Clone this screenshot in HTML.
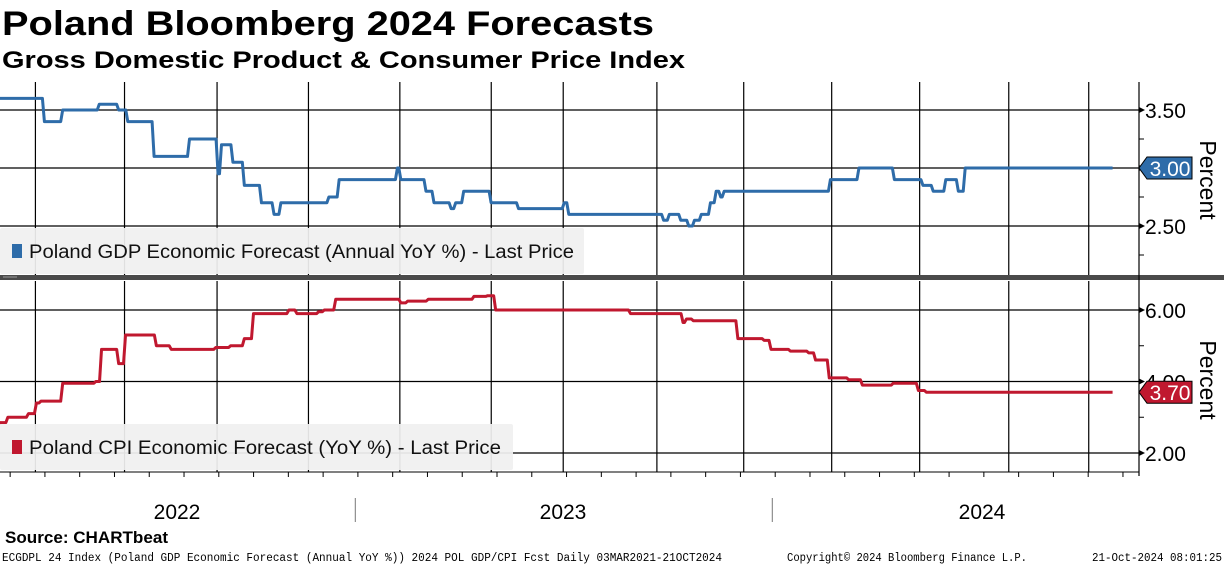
<!DOCTYPE html>
<html><head><meta charset="utf-8">
<style>
body{margin:0;background:#fff;width:1224px;height:566px;overflow:hidden;font-family:"Liberation Sans",sans-serif;}
svg{display:block}
</style></head>
<body>
<svg id="chart" width="1224" height="566" xmlns="http://www.w3.org/2000/svg">
<text x="2" y="35" font-size="34" font-weight="bold" fill="#000" textLength="652" lengthAdjust="spacingAndGlyphs">Poland Bloomberg 2024 Forecasts</text>
<text x="2" y="68" font-size="24" font-weight="bold" fill="#000" textLength="683" lengthAdjust="spacingAndGlyphs">Gross Domestic Product &amp; Consumer Price Index</text>
<g id="grid"></g>
<g id="series"></g>
<g id="axes"></g>
<text x="5" y="543" font-size="17" font-weight="bold" fill="#000" textLength="163" lengthAdjust="spacingAndGlyphs">Source: CHARTbeat</text>
<g font-family="Liberation Mono, monospace" font-size="11.5" fill="#000">
<text x="2" y="561" textLength="720" lengthAdjust="spacingAndGlyphs">ECGDPL 24 Index (Poland GDP Economic Forecast (Annual YoY %)) 2024 POL GDP/CPI Fcst  Daily 03MAR2021-21OCT2024</text>
<text x="787" y="561" textLength="240" lengthAdjust="spacingAndGlyphs">Copyright© 2024 Bloomberg Finance L.P.</text>
<text x="1092" y="561" textLength="130" lengthAdjust="spacingAndGlyphs">21-Oct-2024 08:01:25</text>
</g>
</svg>
<script>
// x values are days since ~23 Feb 2022
const gdpDays = [0,38,54,86,103,111,134,165,190,193,203,213,228,239,245,287,296,347,350,372,379,394,398,405,429,453,493,497,580,585,595,602,607,613,621,626,630,633,726,751,782,807,816,827,838,844,973];
const gdpValues = [3.60,3.40,3.50,3.55,3.50,3.40,3.10,3.25,2.95,3.20,3.05,2.85,2.70,2.60,2.70,2.75,2.90,3.00,2.90,2.80,2.70,2.65,2.70,2.80,2.70,2.65,2.70,2.60,2.55,2.60,2.55,2.50,2.55,2.60,2.70,2.80,2.75,2.80,2.90,3.00,2.90,2.85,2.80,2.90,2.80,3.00,3.00];
const cpiDays = [0,6,24,31,35,54,83,88,103,109,136,149,188,201,213,221,252,259,278,283,293,350,356,374,414,426,433,551,597,600,606,645,668,674,691,707,713,725,742,754,781,803,810,973];
const cpiValues = [2.85,3.00,3.10,3.40,3.45,3.95,4.00,4.90,4.50,5.30,5.00,4.90,4.95,5.00,5.20,5.90,6.00,5.90,5.95,6.00,6.30,6.20,6.25,6.30,6.38,6.40,6.00,5.90,5.65,5.75,5.70,5.20,5.15,4.90,4.85,4.80,4.60,4.10,4.05,3.90,3.95,3.75,3.70,3.70];
const gdpTicks = [2.50,3.00,3.50];
const gdpMinor = [2.25,2.75,3.25];
const cpiTicks = [2.00,4.00,6.00];
const cpiMinor = [3.00,5.00];
const gridDays = [31,109,190,270,350,430,493,575,651,728,805,883,953];
const yearLabels = ["2022","2023","2024"];
const yearStarts = [-54,311,676];
const lastGdp = "3.00", lastCpi = "3.70";

const NS="http://www.w3.org/2000/svg";
const X0=0,X1=1139,D0=0,D1=997;
const x=d=>X0+(d-D0)/(D1-D0)*(X1-X0);
const yG=v=>110-(v-3.5)*116;
const yC=v=>310-(v-6)*35.75;
function mk(tag,attrs,parent){const e=document.createElementNS(NS,tag);for(const k in attrs)e.setAttribute(k,attrs[k]);parent.appendChild(e);return e;}
const grid=document.getElementById('grid'),series=document.getElementById('series'),axes=document.getElementById('axes');

gridDays.forEach(d=>{
  let l=mk('line',{x1:x(d),x2:x(d),y1:82,y2:276,stroke:'#000','stroke-width':1.2},grid);
  
  
  let l2=mk('line',{x1:x(d),x2:x(d),y1:281,y2:472,stroke:'#000','stroke-width':1.2},grid);
  
  
});
gdpTicks.forEach(v=>{
  let l=mk('line',{x1:0,x2:X1,y1:yG(v),y2:yG(v),stroke:'#000','stroke-width':1.2},grid);
  
  
});
cpiTicks.forEach(v=>{
  let l=mk('line',{x1:0,x2:X1,y1:yC(v),y2:yC(v),stroke:'#000','stroke-width':1.2},grid);
  
  
});

function legend(y,w,color,text,tl,name){
  const g=mk('g',{},series);
  
  
  mk('rect',{x:0,y:y,width:w,height:46,fill:'#f0f0f0','fill-opacity':0.93,rx:2},g);
  mk('rect',{x:12,y:y+16,width:10,height:14,fill:color},g);
  const t=mk('text',{x:29,y:y+30,'font-size':19,fill:'#111',textLength:tl,lengthAdjust:'spacingAndGlyphs'},g);t.textContent=text;
}

function stepPath(days,vals,ys){
  let d='M'+x(days[0])+','+ys(vals[0]);
  for(let i=1;i<days.length;i++){
    const xx=x(days[i]);
    d+=' L'+(xx-1)+','+ys(vals[i-1])+' L'+(xx+1)+','+ys(vals[i]);
  }
  return d;
}
const gp=mk('path',{d:stepPath(gdpDays,gdpValues,yG),fill:'none',stroke:'#2e6ca9','stroke-width':3,'stroke-linejoin':'round'},series);


const cp=mk('path',{d:stepPath(cpiDays,cpiValues,yC),fill:'none',stroke:'#c0182f','stroke-width':3,'stroke-linejoin':'round'},series);



legend(228,584,'#2e6ca9','Poland GDP Economic Forecast (Annual YoY %) - Last Price',545,'gdp-legend');
legend(424,513,'#c0182f','Poland CPI Economic Forecast (YoY %) - Last Price',472,'cpi-legend');

let sep=mk('rect',{x:0,y:275,width:1224,height:5,fill:'#4a4a4a'},axes);


mk('line',{x1:3,x2:17,y1:277,y2:277,stroke:'#999','stroke-width':1},axes);

let ax=mk('line',{x1:X1,x2:X1,y1:82,y2:476,stroke:'#000','stroke-width':1.2},axes);


function ticks(vals,minor,ys,name){
  vals.forEach(v=>{
    mk('path',{d:`M${X1},${ys(v)-3} L${X1+6},${ys(v)} L${X1},${ys(v)+3}Z`,fill:'#000'},axes);
    const t=mk('text',{x:1145,y:ys(v)+8,'font-size':21,fill:'#000'},axes);
    t.textContent=v.toFixed(2);
    
    
  });
  minor.forEach(v=>mk('line',{x1:X1,x2:X1+5,y1:ys(v),y2:ys(v),stroke:'#000'},axes));
}
ticks(gdpTicks,gdpMinor,yG,'gdp');
ticks(cpiTicks,cpiMinor,yC,'cpi');
[[180,'gdp-y-axis-title'],[380,'cpi-y-axis-title']].forEach(([cy,n])=>{
  const t=mk('text',{x:0,y:0,'font-size':23,fill:'#000','text-anchor':'middle',transform:`translate(1200,${cy}) rotate(90)`},axes);
  t.textContent='Percent';
  
  
});
function badge(v,ys,color,label,name){
  const y=ys(v),g=mk('g',{},axes);
  
  
  mk('path',{d:`M${X1},${y} L${X1+8},${y-11} L${X1+53},${y-11} L${X1+53},${y+11} L${X1+8},${y+11}Z`,fill:color,stroke:'#000','stroke-width':1},g);
  const t=mk('text',{x:X1+31,y:y+8,'font-size':21,fill:'#fff','text-anchor':'middle'},g);t.textContent=label;
}
badge(3.0,yG,'#2e6ca9',lastGdp,'gdp-last-value');
badge(3.7,yC,'#c0182f',lastCpi,'cpi-last-value');

for(let d=-52+30.44;d<D1;d+=30.44){mk('line',{x1:x(d),x2:x(d),y1:472,y2:477,stroke:'#000'},axes);}
mk('line',{x1:0,x2:X1,y1:472,y2:472,stroke:'#000'},axes);
yearLabels.forEach((lab,i)=>{
  if(i>0){mk('line',{x1:x(yearStarts[i]),x2:x(yearStarts[i]),y1:498,y2:522,stroke:'#777'},axes);}
  const t=mk('text',{x:[177,563,982][i],y:519,'font-size':21,fill:'#000','text-anchor':'middle'},axes);
  t.textContent=lab;
  
  
});
</script>
</body></html>
